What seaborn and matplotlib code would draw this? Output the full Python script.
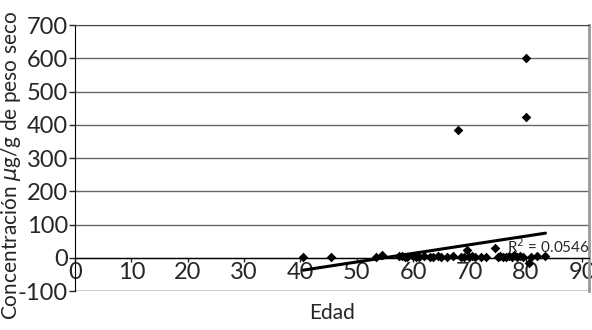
import numpy as np
import pandas as pd
import matplotlib
matplotlib.use('Agg')
import matplotlib.pyplot as plt
import seaborn as sns

# datos
edad = [40.5, 45.5, 53.5, 54.5, 57.5, 58, 58.5, 59, 60, 60.5, 61, 62, 63, 63.5,
        64.5, 65, 66, 67, 68, 68.5, 69, 69.5, 70, 70.5, 71, 72, 73, 74.5, 75,
        75.5, 76, 76.5, 77, 77.5, 78, 78.5, 79, 79.5, 80, 80, 80.5, 81, 82, 83.5]
concentracion = [2, 2, 3, 8, 6, 4, 3, 2, 5, 3, 2, 4, 3, 2,
                 4, 3, 3, 5, 385, 3, 2, 25, 3, 4, 2, 3, 3, 30, 3,
                 4, 2, 3, 5, 3, 8, 3, 4, 2, 600, 425, -15, 3, 4, 6]
r2_texto = 'R$^2$ = 0.0546'

df = pd.DataFrame({'Edad': edad, 'Conc': concentracion})

sns.set_style('white')
plt.rcParams['font.family'] = ['Lato', 'DejaVu Sans']
plt.rcParams['axes.unicode_minus'] = False

fig = plt.figure(figsize=(5.92, 3.3), dpi=100)
ax = fig.add_axes([0.1267, 0.118, 0.868, 0.806])

# linea de tendencia
sns.regplot(data=df, x='Edad', y='Conc', ci=None, scatter=False, truncate=True,
            line_kws={'color': 'black', 'lw': 2.2}, ax=ax)
sns.scatterplot(data=df, x='Edad', y='Conc', marker='D', s=24, color='black',
                edgecolor='black', linewidth=0, ax=ax, zorder=4)

ax.set_xlim(0, 91.2)
ax.set_ylim(-100, 700)
ax.set_xticks(range(0, 100, 10))
ax.set_yticks(range(-100, 800, 100))
for yv in range(-100, 800, 100):
    ax.axhline(yv, color='#666666' if yv not in (0, -100) else 'black', lw=1, zorder=1)

ax.spines['bottom'].set_position(('data', 0))
ax.spines['bottom'].set_color('black')
ax.spines['left'].set_color('black')
ax.spines['top'].set_color('#444444')
ax.spines['right'].set_color('#999999')
ax.spines['right'].set_linewidth(2)
ax.tick_params(axis='x', direction='out', length=3, width=1, labelsize=17, pad=0, bottom=True)
ax.tick_params(axis='y', direction='out', length=4, width=1, labelsize=17, pad=1, left=True)

ax.set_xlabel('Edad', fontsize=15, labelpad=0)
ax.xaxis.set_label_coords(0.5, -0.045)
ax.set_ylabel('Concentración $\\mu$g/g de peso seco', fontsize=15, labelpad=2)
ax.yaxis.set_label_coords(-0.102, 0.474)

ax.text(76.7, 33, r2_texto, fontsize=11, va='center', ha='left', zorder=5)

fig.savefig('out.png', dpi=100)
